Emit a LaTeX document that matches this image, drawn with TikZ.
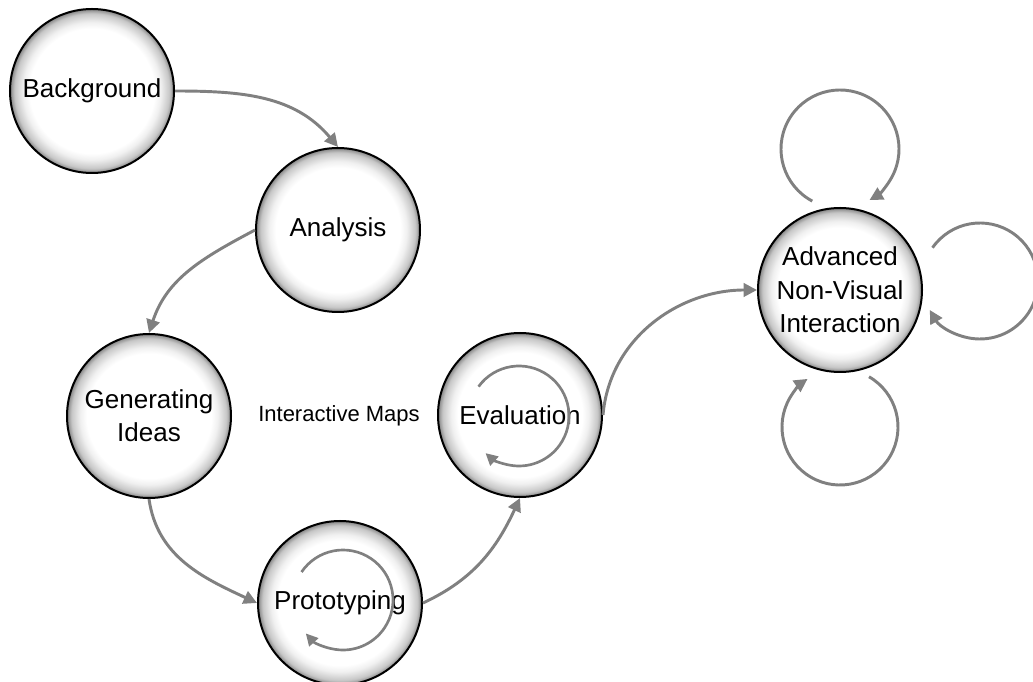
\documentclass[tikz,border=0pt]{standalone}
\usepackage{fontspec}
\setmainfont{Liberation Sans}
\usetikzlibrary{arrows.meta}
\pgfdeclareradialshading{ringshade}{\pgfpoint{0bp}{0bp}}{color(0bp)=(white); color(19bp)=(white); color(21bp)=(black!6); color(23.6bp)=(black!22); color(25bp)=(black!48); color(50bp)=(black!48)}
\definecolor{flowgray}{RGB}{128,128,128}
\begin{document}
\begin{tikzpicture}[x=0.75pt,y=0.75pt,
  stage/.style={circle, draw=black, line width=1.5pt, shade, shading=ringshade,
    minimum size=123pt, inner sep=0pt, align=center,
    font=\fontsize{19.5}{25}\selectfont},
  flow/.style={draw=flowgray, line width=2.2pt, -{Triangle[length=10pt,width=10pt]}},
  cycle/.style={draw=flowgray, line width=2pt, -{Triangle[length=9pt,width=9pt]}},
  labeltext/.style={font=\fontsize{16.5}{20}\selectfont}]
\useasboundingbox (0,0) rectangle (1033,682);
\fill[white] (0,0) rectangle (1033,682);
\node[stage] (bg) at (92,591) {Background};
\node[stage] (an) at (338,452) {Analysis};
\node[stage] (gi) at (149,266) {Generating\\Ideas};
\node[stage] (pr) at (340,79) {Prototyping};
\node[stage] (ev) at (520,267) {Evaluation};
\node[stage] (ad) at (840,392) {Advanced\\Non-Visual\\Interaction};
\node[labeltext] (im) at (339,266) {Interactive Maps};
% connectors
\draw[flow] (bg.east) to[out=0,in=130] (an.north);
\draw[flow] (an.west) to[out=208,in=72] (gi.north);
\draw[flow] (gi.south) to[out=-82,in=155] (pr.west);
\draw[flow] (pr.east) to[out=25,in=-115] (ev.south);
\draw[flow] (ev.east) to[out=85,in=180] (ad.west);
% inner cycles
\coordinate (pc) at (343,82);
\coordinate (ec) at (519,266);
\draw[cycle] ([shift={(146:50)}]pc) arc[start angle=146, end angle=-138, radius=50];
\draw[cycle] ([shift={(144:50)}]ec) arc[start angle=144, end angle=-132, radius=50];
% loops around the last stage
\coordinate (tl) at (840,533);
\coordinate (rl) at (980,401);
\coordinate (bl) at (840,255);
\draw[flow] ([shift={(242:59)}]tl) arc[start angle=242, end angle=-60, radius=59];
\draw[flow] ([shift={(145:58)}]rl) arc[start angle=145, end angle=-150, radius=58];
\draw[flow] ([shift={(60:58)}]bl) arc[start angle=60, end angle=-236, radius=58];
\end{tikzpicture}
\end{document}
